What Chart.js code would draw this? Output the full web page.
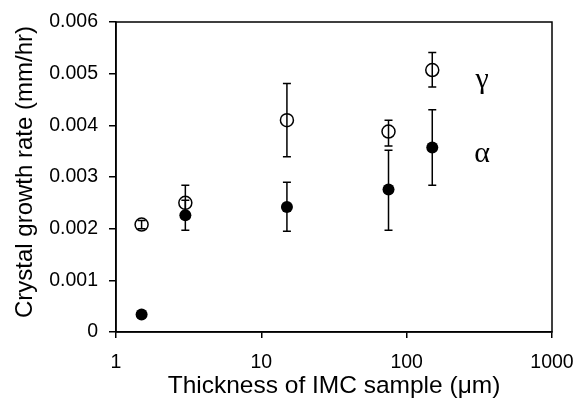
<!DOCTYPE html>
<html>
<head>
<meta charset="utf-8">
<script src="https://cdn.jsdelivr.net/npm/chart.js@4.4.1/dist/chart.umd.min.js"></script>
<style>
  html, body { margin: 0; padding: 0; background: #fff; }
  canvas { display: block; }
</style>
</head>
<body>
<canvas id="chart" width="578" height="401"></canvas>
<script>
// thickness of IMC sample (um) and growth rates (mm/hr)
const thickness = [1.5, 3, 15, 75, 150];

const gammaRate = [0.00208, 0.0025, 0.0041, 0.00388, 0.00507];
const gammaLow  = [0.00200, 0.0022, 0.00339, 0.0036, 0.00474];
const gammaHigh = [0.00216, 0.00284, 0.00481, 0.0041, 0.00541];

const alphaRate = [0.00034, 0.00226, 0.00242, 0.00276, 0.00357];
const alphaLow  = [null, 0.00197, 0.00195, 0.00197, 0.00284];
const alphaHigh = [null, 0.00255, 0.0029, 0.00352, 0.0043];

const xTicks = [1, 10, 100, 1000];
const yTitle = 'Crystal growth rate (mm/hr)';
const phaseNames = ['γ', 'α'];
const phaseNameAt = [[330, 0.00488], [330, 0.00345]];

const toPoints = (xs, ys) => xs.map((x, i) => ({ x: x, y: ys[i] }));

// error bars with caps, drawn from the low/high arrays
const errorBars = {
    id: 'errorBars',
    afterDatasetsDraw(chart) {
        const { ctx, scales: { x, y } } = chart;
        const sets = [[gammaLow, gammaHigh], [alphaLow, alphaHigh]];
        ctx.save();
        ctx.strokeStyle = '#000';
        ctx.lineWidth = 1.5;
        sets.forEach(([lo, hi]) => {
            thickness.forEach((t, i) => {
                if (lo[i] == null) return;
                const px = x.getPixelForValue(t);
                const y0 = y.getPixelForValue(lo[i]);
                const y1 = y.getPixelForValue(hi[i]);
                ctx.beginPath();
                ctx.moveTo(px, y0); ctx.lineTo(px, y1);
                ctx.moveTo(px - 4, y0); ctx.lineTo(px + 4, y0);
                ctx.moveTo(px - 4, y1); ctx.lineTo(px + 4, y1);
                ctx.stroke();
            });
        });
        ctx.restore();
    }
};

// box around plot, y title, greek phase labels
const frame = {
    id: 'frame',
    afterDraw(chart) {
        const { ctx, chartArea: a, scales: { x, y } } = chart;
        ctx.save();
        ctx.strokeStyle = '#000';
        ctx.lineWidth = 1.5;
        ctx.strokeRect(a.left, a.top, a.right - a.left, a.bottom - a.top);
        ctx.fillStyle = '#000';
        ctx.textAlign = 'center';
        ctx.textBaseline = 'middle';

        // y title sits a bit above the middle of the axis, like the original
        ctx.save();
        ctx.translate(25, (a.top + a.bottom) / 2 - 5);
        ctx.rotate(-Math.PI / 2);
        ctx.font = '24px "Liberation Sans", Arial, sans-serif';
        ctx.fillText(yTitle, 0, 0);
        ctx.restore();

        ctx.font = '30px "Liberation Serif", "Times New Roman", serif';
        phaseNames.forEach((name, i) => {
            ctx.fillText(name, x.getPixelForValue(phaseNameAt[i][0]), y.getPixelForValue(phaseNameAt[i][1]));
        });
        ctx.restore();
    }
};

Chart.defaults.font.family = '"Liberation Sans", Arial, sans-serif';
Chart.defaults.color = '#000';

new Chart(document.getElementById('chart'), {
    type: 'scatter',
    data: {
        datasets: [
            {
                label: 'gamma',
                data: toPoints(thickness, gammaRate),
                pointStyle: 'circle',
                pointRadius: 6.5,
                pointBorderWidth: 1.5,
                borderColor: '#000',
                backgroundColor: 'rgba(0,0,0,0)'
            },
            {
                label: 'alpha',
                data: toPoints(thickness, alphaRate),
                pointStyle: 'circle',
                pointRadius: 6,
                pointBorderWidth: 0,
                borderColor: '#000',
                backgroundColor: '#000'
            }
        ]
    },
    options: {
        responsive: false,
        animation: false,
        devicePixelRatio: 1,
        layout: { padding: { left: 0, top: 22, right: 26, bottom: 0 } },
        plugins: { legend: { display: false }, tooltip: { enabled: false } },
        scales: {
            x: {
                type: 'logarithmic',
                min: 1,
                max: 1000,
                afterBuildTicks: s => { s.ticks = xTicks.map(v => ({ value: v })); },
                afterFit: s => { s.height = 69; s.paddingLeft = 0; s.paddingRight = 0; },
                ticks: {
                    callback: v => String(v),
                    font: { size: 19.5 },
                    color: '#000',
                    padding: 13,
                    maxRotation: 0
                },
                grid: { drawOnChartArea: false, tickLength: 6, color: '#000', lineWidth: 1.5 },
                border: { color: '#000', width: 1.5 },
                title: {
                    display: true,
                    text: 'Thickness of IMC sample (μm)',
                    font: { size: 24.5 },
                    color: '#000',
                    padding: { top: 0, bottom: 0 }
                }
            },
            y: {
                min: 0,
                max: 0.006,
                afterFit: s => { s.width = 116; s.paddingTop = 0; s.paddingBottom = 0; },
                ticks: {
                    stepSize: 0.001,
                    callback: v => (v === 0 ? '0' : v.toFixed(3)),
                    font: { size: 19.5 },
                    color: '#000',
                    padding: 11
                },
                grid: { drawOnChartArea: false, tickLength: 7, color: '#000', lineWidth: 1.5 },
                border: { color: '#000', width: 1.5 }
            }
        }
    },
    plugins: [errorBars, frame]
});
</script>
</body>
</html>
